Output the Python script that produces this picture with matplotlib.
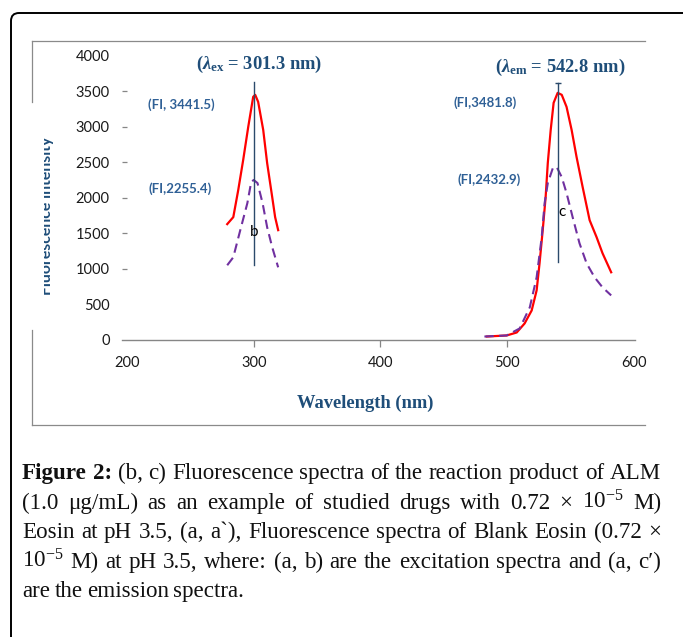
import matplotlib
matplotlib.use("Agg")
import matplotlib.pyplot as plt
from matplotlib.patches import FancyBboxPatch, Rectangle
from matplotlib.lines import Line2D
from matplotlib.transforms import IdentityTransform

# --- data ---
ex_wl = [279.1, 283.9, 287.8, 291.7, 295.7, 299.6, 301.2, 303.5, 307.5, 310.6, 314.6, 316.9, 319.3]
ex_drug = [1627, 1726, 2108, 2532, 3000, 3423, 3450, 3352, 2956, 2489, 2008, 1726, 1542]

ex_blank_wl = [279.1, 283.9, 289.4, 295.0, 298.0, 300.0, 303.0, 307.0, 310.6, 314.6, 319.3]
ex_blank = [1047, 1160, 1542, 1924, 2220, 2250, 2206, 1924, 1584, 1301, 1018]

em_wl = [483.9, 499.6, 507.5, 513.7, 519.3, 523.2, 525.5, 528.0, 530.3, 532.0, 534.3,
         536.6, 539.8, 543.0, 546.8, 550.8, 554.7, 559.5, 565.0, 570.5, 575.2, 582.0]
em_drug = [42, 57, 99, 226, 410, 693, 1075, 1542, 2008, 2489, 2956,
           3338, 3479, 3451, 3281, 2956, 2574, 2150, 1683, 1443, 1216, 948]

em_blank_wl = [482.0, 499.6, 509.8, 517.8, 523.2, 527.2, 529.5, 532.0, 536.0, 539.0, 543.0,
               546.8, 551.6, 557.0, 562.6, 568.9, 575.2, 582.0]
em_blank = [42, 57, 156, 453, 877, 1443, 1924, 2206, 2419, 2433, 2291,
            2065, 1726, 1358, 1075, 877, 735, 622]

peak_wl = [300.5, 540.0]
peak_lo = [1050, 1100]
peak_hi = [3630, 3620]
peak_tags = ["b", "c"]
tag_y = [1510, 1800]

titles = [r"($\lambda_{\mathbf{ex}}$ = 301.3 nm)", r"($\lambda_{\mathbf{em}}$ = 542.8 nm)"]
title_pos = [(304, 3886), (542, 3843)]

fi_labels = ["(FI, 3441.5)", "(FI,2255.4)", "(FI,3481.8)", "(FI,2432.9)"]
fi_pos = [(242.5, 3307), (242, 2123), (482.3, 3336), (485.4, 2250)]

x_ticks = [200, 300, 400, 500, 600]
y_ticks = [0, 500, 1000, 1500, 2000, 2500, 3000, 3500, 4000]

caption = [
    "Figure 2: (b, c) Fluorescence spectra of the reaction product of ALM",
    "(1.0 \u03bcg/mL) as an example of studied drugs with 0.72 \u00d7 $10^{-5}$ M)",
    "Eosin at pH 3.5, (a, a`), Fluorescence spectra of Blank Eosin (0.72 \u00d7",
    "$10^{-5}$ M) at pH 3.5, where: (a, b) are the excitation spectra and (a, c\u2032)",
    "are the emission spectra.",
]

W, H = 683, 637
BLUE = "#1f4e79"
LBLUE = "#2f6096"
GREY = "#868686"

plt.rcParams["mathtext.fontset"] = "custom"
plt.rcParams["mathtext.rm"] = "Liberation Serif"
plt.rcParams["mathtext.bf"] = "Liberation Serif:bold"
plt.rcParams["mathtext.it"] = "Liberation Serif:italic:bold"


def fx(x):
    return x / W


def fy(y):
    return 1 - y / H


fig = plt.figure(figsize=(W / 100, H / 100), dpi=100)

# outer rounded frame and inner chart frame
box = FancyBboxPatch((11, -20), 684, H - 13 + 20, boxstyle="round,pad=0,rounding_size=8",
                     transform=IdentityTransform(), fill=False, edgecolor="black", linewidth=1.4)
fig.add_artist(box)
for (x0, y0), (x1, y1) in [((32, 41), (645, 41)), ((32, 41), (32, 102)),
                           ((32, 330), (32, 425)), ((32, 425), (645, 425))]:
    fig.add_artist(Line2D([fx(x0), fx(x1)], [fy(y0), fy(y1)], transform=fig.transFigure,
                          color="#8a8a8a", linewidth=0.9))

ax = fig.add_axes([fx(122), fy(339.5), (635 - 122) / W, (339.5 - 50) / H])

ax.plot(ex_wl, ex_drug, color="#ff0000", linewidth=1.6)
ax.plot(ex_blank_wl, ex_blank, color="#7030a0", linewidth=1.5, linestyle=(0, (4.5, 2.6)))
ax.plot(em_wl, em_drug, color="#ff0000", linewidth=1.6)
ax.plot(em_blank_wl, em_blank, color="#7030a0", linewidth=1.5, linestyle=(0, (4.5, 2.6)))

for i in range(2):
    ax.plot([peak_wl[i], peak_wl[i]], [peak_lo[i], peak_hi[i]], color="#2b4a6b", linewidth=1.0)
    ax.text(peak_wl[i] + (0 if i == 0 else 0.3), tag_y[i], peak_tags[i],
            ha="center" if i == 0 else "left", va="center", fontsize=11, family="Lato", color="black")
ax.plot([peak_wl[1]], [peak_hi[1]], marker="_", markersize=5, color="#2b4a6b", markeredgewidth=1.0)

for t, (x, y) in zip(titles, title_pos):
    ax.text(x, y, t, ha="center", va="center", fontsize=13.3, fontweight="bold",
            family="Liberation Serif", math_fontfamily="custom", color=BLUE, clip_on=False)

for t, (x, y) in zip(fi_labels, fi_pos):
    ax.text(x, y, t, ha="center", va="center", fontsize=9.5, fontweight="bold",
            family="Lato", color=LBLUE)

ax.set_xlim(196.1, 600.8)
ax.set_ylim(0, 4083)
ax.set_xticks(x_ticks)
ax.set_yticks(y_ticks)
ax.set_xticks(x_ticks[1:-1], minor=True)
ax.set_yticks(y_ticks[2:-1], minor=True)
ax.xaxis.remove_overlapping_locs = False
ax.yaxis.remove_overlapping_locs = False
ax.tick_params(axis="both", which="major", length=0, labelsize=10.5, labelcolor="#1a1a1a")
ax.tick_params(axis="x", which="major", pad=12)
ax.tick_params(axis="y", which="major", pad=9)
ax.tick_params(axis="x", which="minor", length=5, direction="out", color=GREY, width=0.9)
ax.tick_params(axis="y", which="minor", length=3.5, direction="in", color=GREY, width=0.9)
for lab in ax.get_xticklabels() + ax.get_yticklabels():
    lab.set_family("Lato")
for s in ["top", "right", "left"]:
    ax.spines[s].set_visible(False)
ax.spines["bottom"].set_color(GREY)
ax.spines["bottom"].set_linewidth(1.0)

fig.text(fx(365), fy(403), "Wavelength (nm)", ha="center", va="center", fontsize=13.3,
         fontweight="bold", family="Liberation Serif", color=BLUE)

# y label, cut on its left side as in the reference
ylab = fig.text(fx(54), fy(216), "Fluorescence intensity", rotation=90, ha="right", va="center",
                fontsize=11.3, fontweight="bold", family="Lato", color=BLUE)
clip = Rectangle((fx(43.5), 0), fx(30), 1, transform=fig.transFigure, visible=False)
fig.add_artist(clip)
ylab.set_clip_path(clip)

# justified caption
renderer = fig.canvas.get_renderer()
left, right = fx(22), fx(661)
size = 16.6
for n, line in enumerate(caption):
    words = line.split(" ")
    objs = []
    for k, w in enumerate(words):
        bold = n == 0 and k < 2
        objs.append(fig.text(0, fy(479 + 29.6 * n), w, fontsize=size,
                             fontweight="bold" if bold else "normal", family="Liberation Serif",
                             math_fontfamily="custom", va="baseline", ha="left", color="#111111"))
    widths = [o.get_window_extent(renderer).width / W for o in objs]
    if n < len(caption) - 1:
        gap = (right - left - sum(widths)) / (len(objs) - 1)
    else:
        gap = 4.4 / W
    x = left
    for o, wd in zip(objs, widths):
        o.set_x(x)
        x += wd + gap

fig.savefig("out.png", dpi=100)
